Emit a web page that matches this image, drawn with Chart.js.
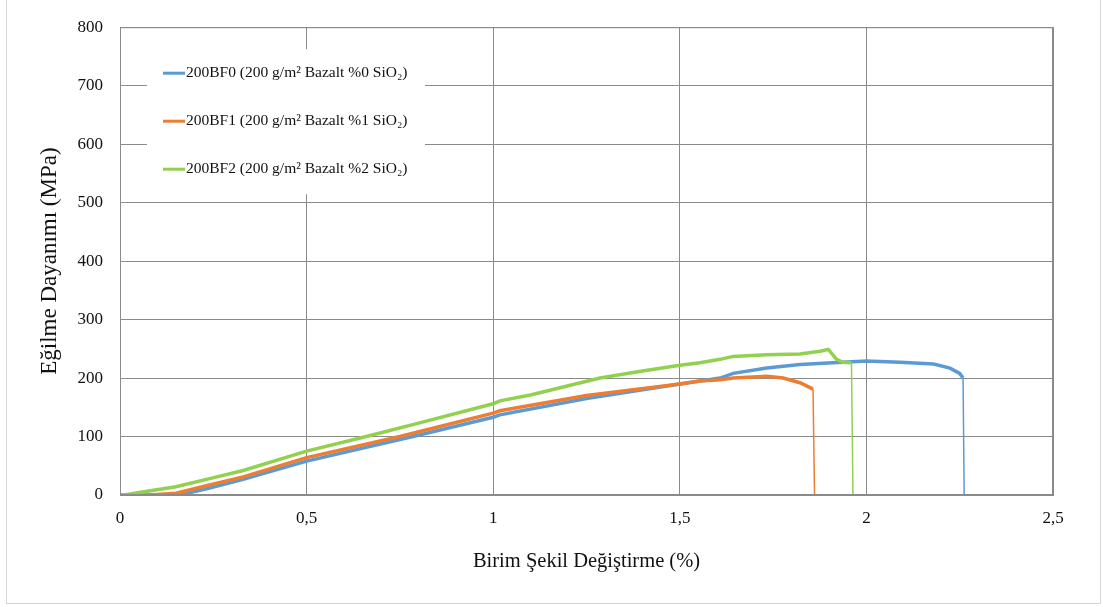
<!DOCTYPE html>
<html>
<head>
<meta charset="utf-8">
<script src="https://cdn.jsdelivr.net/npm/chart.js@4.4.1/dist/chart.umd.min.js"></script>
<style>
	body { margin: 0; background: #fff; }
	#wrap { position: relative; width: 1103px; height: 607px; }
	#frame { position: absolute; left: 6px; top: -2px; width: 1093px; height: 604px; border: 1px solid #d6d6d6; }
	#mycanvas { position: absolute; left: 0; top: 0; }
</style>
</head>
<body>
<div id="wrap">
	<div id="frame"></div>
	<canvas id="mycanvas" width="1103" height="607"></canvas>
</div>
<script>
// strain (%) and flexural stress (MPa)
var bf0Strain = [0, 0.16, 0.24, 0.33, 0.5, 0.785, 1.0, 1.018, 1.25, 1.5, 1.554, 1.608, 1.643, 1.733, 1.822, 1.91, 2.0, 2.09, 2.18, 2.224, 2.25, 2.259, 2.262];
var bf0Stress = [0, 0, 12, 27, 58, 100, 133, 137, 165, 190, 195, 200, 208, 217, 223, 226, 229, 227, 224, 217, 208, 200, 0];

var bf1Strain = [0, 0.07, 0.1, 0.15, 0.24, 0.33, 0.5, 0.75, 1.0, 1.018, 1.25, 1.5, 1.554, 1.608, 1.643, 1.733, 1.777, 1.822, 1.857, 1.861];
var bf1Stress = [0, 0, 1, 3, 17, 31, 64, 100, 140, 144, 170, 190, 195, 197, 200, 203, 200, 192, 181, 0];

var bf2Strain = [0, 0.01, 0.06, 0.15, 0.24, 0.33, 0.5, 0.66, 0.8, 1.0, 1.018, 1.1, 1.286, 1.4, 1.5, 1.554, 1.608, 1.643, 1.733, 1.822, 1.876, 1.898, 1.92, 1.937, 1.96, 1.964];
var bf2Stress = [0, 0, 5, 14, 28, 42, 75, 100, 123, 156, 161, 171, 200, 212, 222, 226, 232, 237, 240, 241, 246, 249, 232, 227, 226, 0];

var seriesNames = [
	'200BF0 (200 g/m\u00b2 Bazalt %0 SiO\u2082)',
	'200BF1 (200 g/m\u00b2 Bazalt %1 SiO\u2082)',
	'200BF2 (200 g/m\u00b2 Bazalt %2 SiO\u2082)'
];
var seriesColors = ['#5b9bd5', '#ed7d31', '#92d050'];

var xTickLabels = ['0', '0,5', '1', '1,5', '2', '2,5'];
var yTickLabels = ['0', '100', '200', '300', '400', '500', '600', '700', '800'];

var serif = '"Liberation Serif", "Times New Roman", serif';

function toPoints(xs, ys) {
	var pts = [];
	for (var i in xs) {
		pts.push({x: xs[i], y: ys[i]});
	}
	return pts;
}

function makeSet(i, xs, ys) {
	var last = xs.length - 1;
	return {
		label: seriesNames[i],
		data: toPoints(xs, ys),
		borderColor: seriesColors[i],
		backgroundColor: seriesColors[i],
		borderWidth: 3.5,
		pointRadius: 0,
		tension: 0,
		order: 3 - i,
		segment: {
			// the break drop down to zero is a thin line
			borderWidth: function(c) { return c.p1DataIndex === last ? 1.5 : 3.5; }
		}
	};
}

// legend box sitting inside the plot, upper left
var boxLegend = {
	id: 'boxLegend',
	beforeDatasetsDraw: function(chart) {
		var ctx = chart.ctx;
		var a = chart.chartArea;
		ctx.save();
		ctx.fillStyle = '#ffffff';
		ctx.fillRect(a.left + 27, a.top + 22, 278, 145);
		chart.data.datasets.forEach(function(ds, i) {
			var y = a.top + 46 + i * 48;
			ctx.strokeStyle = ds.borderColor;
			ctx.lineWidth = 3;
			ctx.beginPath();
			ctx.moveTo(a.left + 43, y);
			ctx.lineTo(a.left + 65, y);
			ctx.stroke();
			ctx.fillStyle = '#111';
			ctx.font = '15.5px ' + serif;
			ctx.textBaseline = 'middle';
			ctx.textAlign = 'left';
			ctx.fillText(ds.label, a.left + 66, y);
		});
		ctx.restore();
	}
};

var ctx = document.getElementById('mycanvas');

var chart = new Chart(ctx, {
	type: 'line',
	data: {
		datasets: [
			makeSet(0, bf0Strain, bf0Stress),
			makeSet(1, bf1Strain, bf1Stress),
			makeSet(2, bf2Strain, bf2Stress)
		]
	},
	options: {
		responsive: false,
		animation: false,
		layout: { padding: { left: 0, top: 23, right: 50, bottom: 12 } },
		plugins: {
			legend: { display: false },
			tooltip: { enabled: false }
		},
		scales: {
			x: {
				type: 'linear',
				min: 0,
				max: 2.5,
				ticks: {
					stepSize: 0.5,
					padding: 13,
					color: '#111',
					font: { family: serif, size: 17 },
					callback: function(v) { return xTickLabels[Math.round(v / 0.5)]; }
				},
				grid: { color: '#8a8a8a', drawTicks: false },
				border: { color: '#8a8a8a' },
				title: {
					display: true,
					text: 'Birim \u015eekil De\u011fi\u015ftirme (%)',
					color: '#111',
					font: { family: serif, size: 20.5 },
					padding: { top: 0, bottom: 21 }
				},
				afterFit: function(s) { s.height = 100; }
			},
			y: {
				min: 0,
				max: 800,
				ticks: {
					stepSize: 100,
					padding: 17,
					color: '#111',
					font: { family: serif, size: 17 },
					callback: function(v) { return yTickLabels[Math.round(v / 100)]; }
				},
				grid: { color: '#8a8a8a', drawTicks: false },
				border: { color: '#8a8a8a' },
				title: {
					display: true,
					text: 'E\u011filme Dayan\u0131m\u0131 (MPa)',
					color: '#111',
					font: { family: serif, size: 23 },
					padding: { top: 36, bottom: 0 }
				},
				afterFit: function(s) { s.width = 120; }
			}
		}
	},
	plugins: [boxLegend, {
		id: 'plotFrame',
		afterDatasetsDraw: function(chart) {
			var a = chart.chartArea;
			chart.ctx.save();
			chart.ctx.strokeStyle = '#8a8a8a';
			chart.ctx.lineWidth = 1;
			chart.ctx.strokeRect(a.left + 0.5, a.top + 0.5, a.right - a.left - 1, a.bottom - a.top - 1);
			chart.ctx.restore();
		}
	}]
});
</script>
</body>
</html>
